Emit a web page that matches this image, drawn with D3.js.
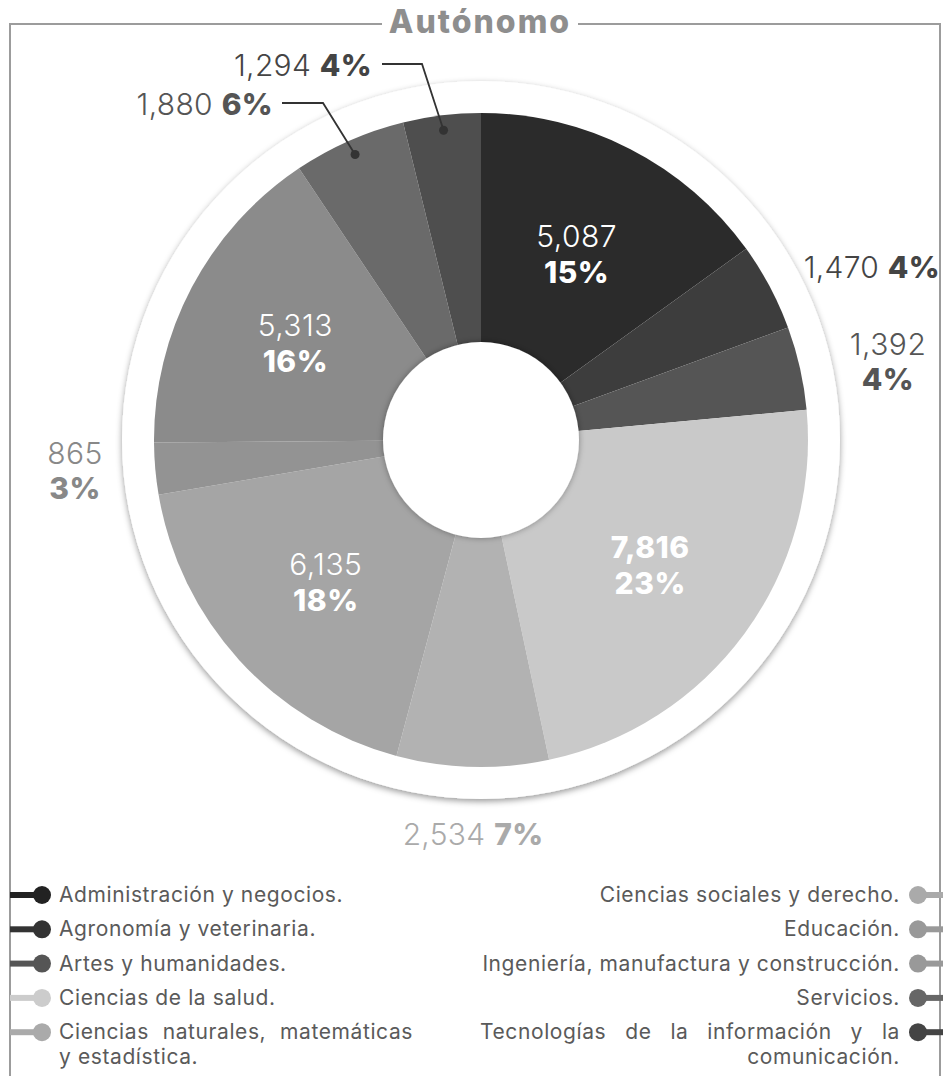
<!DOCTYPE html>
<html><head><meta charset="utf-8">
<script src="https://cdn.jsdelivr.net/npm/d3@7"></script>
<style>
body{margin:0;background:#fff;}
svg{display:block;}
text{font-family:Inter,"Open Sans","DejaVu Sans",sans-serif;}
</style>
</head><body>
<svg id="chart" width="943" height="1076"></svg>
<script>
// ---------- DATA ----------
const title = "Autónomo";
const categories = [
  "Administración y negocios.",
  "Agronomía y veterinaria.",
  "Artes y humanidades.",
  "Ciencias de la salud.",
  "Ciencias naturales, matemáticas y estadística.",
  "Ciencias sociales y derecho.",
  "Educación.",
  "Ingeniería, manufactura y construcción.",
  "Servicios.",
  "Tecnologías de la información y la comunicación."
];
const values   = [5087, 1470, 1392, 7816, 2534, 6135, 865, 5313, 1880, 1294];
const percents = [15, 4, 4, 23, 7, 18, 3, 16, 6, 4];
const valueLabels = ["5,087","1,470","1,392","7,816","2,534","6,135","865","5,313","1,880","1,294"];

// ---------- STYLE / LAYOUT ----------
const sliceColors  = ["#2b2b2b","#3d3d3d","#555555","#c9c9c9","#b2b2b2","#a5a5a5","#939393","#8b8b8b","#6a6a6a","#4e4e4e"];
const legendColors = ["#222222","#333333","#555555","#cccccc","#aaaaaa","#aaaaaa","#999999","#999999","#666666","#444444"];
const labelColors  = ["#fff","#444444","#555555","#fff","#aaaaaa","#fff","#888888","#fff","#555555","#444444"];

const W = 943, H = 1076;
const cx = 481, cy = 440, R = 327, holeR = 98, ringR = 359;

const svg = d3.select("#chart");
svg.append("rect").attr("width", W).attr("height", H).attr("fill", "#fff");

const defs = svg.append("defs");
const f1 = defs.append("filter").attr("id","ringShadow").attr("x","-10%").attr("y","-10%").attr("width","120%").attr("height","120%");
f1.append("feDropShadow").attr("dx",0).attr("dy",2.5).attr("stdDeviation",3).attr("flood-color","#000").attr("flood-opacity",0.4);
const f2 = defs.append("filter").attr("id","holeShadow").attr("x","-20%").attr("y","-20%").attr("width","140%").attr("height","140%");
f2.append("feDropShadow").attr("dx",0).attr("dy",0).attr("stdDeviation",3).attr("flood-color","#000").attr("flood-opacity",0.35);

// frame
svg.append("path")
  .attr("d", "M10,1076 V24 H382 M578,24 H940 V1076")
  .attr("fill","none").attr("stroke","#9c9c9c").attr("stroke-width",2);

svg.append("text").attr("x", 480).attr("y", 33)
  .attr("text-anchor","middle").attr("font-size", 32).attr("font-weight", 800)
  .attr("letter-spacing", 2)
  .attr("fill", "#8e8e8e").text(title);

const g = svg.append("g").attr("transform", `translate(${cx},${cy})`);

// ring
g.append("circle").attr("r", ringR).attr("fill","#fff").attr("filter","url(#ringShadow)");

const pie = d3.pie().sort(null).value(d => d);
const arcs = pie(values);
const arc = d3.arc().innerRadius(0).outerRadius(R);

g.selectAll("path.slice").data(arcs).join("path")
  .attr("class","slice")
  .attr("d", arc)
  .attr("fill", (d,i) => sliceColors[i]);

// hole
g.append("circle").attr("r", holeR).attr("fill","#fff").attr("filter","url(#holeShadow)");

// inside labels
const inside = [
  {i:0, boldValue:false},
  {i:3, boldValue:true},
  {i:5, boldValue:false},
  {i:7, boldValue:false}
];
const labelArc = d3.arc().innerRadius(210).outerRadius(210);
inside.forEach(o => {
  const [x, y] = labelArc.centroid(arcs[o.i]);
  const t = g.append("text").attr("text-anchor","middle").attr("fill", labelColors[o.i])
    .attr("font-size", 30).attr("letter-spacing", 0.5);
  t.append("tspan").attr("x", x).attr("y", y - 6)
    .attr("font-weight", o.boldValue ? 800 : 300).text(valueLabels[o.i]);
  t.append("tspan").attr("x", x).attr("y", y + 30)
    .attr("font-weight", 800).text(percents[o.i] + "%");
});

// outside labels (absolute page coordinates)
const fs = 30;
function inline(x, y, anchor, i) {
  const t = svg.append("text").attr("x", x).attr("y", y).attr("text-anchor", anchor)
    .attr("font-size", fs).attr("fill", labelColors[i]).attr("letter-spacing", 0.3);
  t.append("tspan").attr("font-weight", 300).text(valueLabels[i] + " ");
  t.append("tspan").attr("font-weight", 800).text(percents[i] + "%");
  return t;
}
function stacked(x, y, i) {
  const t = svg.append("text").attr("text-anchor","middle").attr("font-size", fs).attr("fill", labelColors[i]).attr("letter-spacing", 0.5);
  t.append("tspan").attr("x", x).attr("y", y).attr("font-weight", 300).text(valueLabels[i]);
  t.append("tspan").attr("x", x).attr("y", y + 35).attr("font-weight", 800).text(percents[i] + "%");
}
inline(940, 278, "end", 1);
stacked(888, 355, 2);
inline(473, 845, "middle", 4);
stacked(75, 464, 6);
inline(273, 115, "end", 8);
inline(372, 76, "end", 9);

// leader lines with dots
const dotArc = d3.arc().innerRadius(312).outerRadius(312);
const leaders = [
  {i:8, x0:282, elbowX:323, y:103},
  {i:9, x0:382, elbowX:422, y:64}
];
leaders.forEach(l => {
  const [dx, dy] = dotArc.centroid(arcs[l.i]);
  const px = cx + dx, py = cy + dy;
  svg.append("path")
    .attr("d", `M${l.x0},${l.y} H${l.elbowX} L${px},${py}`)
    .attr("fill","none").attr("stroke","#333").attr("stroke-width",1.8);
  svg.append("circle").attr("cx", px).attr("cy", py).attr("r", 4.5).attr("fill","#333");
});

// ---------- LEGEND ----------
const legFS = 21, legLS = 0.6, legColor = "#5a5a5a";
const rowY = i => 902 + i * 34.3;
function legText(x, y, anchor, s) {
  return svg.append("text").attr("x", x).attr("y", y).attr("text-anchor", anchor)
    .attr("font-size", legFS).attr("letter-spacing", legLS).attr("fill", legColor).text(s);
}
function justify(words, x0, x1, y) {
  const nodes = words.map(w => legText(0, y, "start", w));
  const widths = nodes.map(n => n.node().getComputedTextLength());
  const total = d3.sum(widths);
  const gap = (x1 - x0 - total) / (words.length - 1);
  let x = x0;
  nodes.forEach((n, k) => { n.attr("x", x); x += widths[k] + gap; });
}
const wrapLeft = {4: ["Ciencias naturales, matemáticas", "y estadística."]};
const wrapRight = {9: ["Tecnologías de la información y la", "comunicación."]};

categories.forEach((c, i) => {
  const left = i < 5;
  const row = left ? i : i - 5;
  const y = rowY(row);
  const my = y - 7;
  if (left) {
    svg.append("line").attr("x1", 10).attr("x2", 42).attr("y1", my).attr("y2", my)
      .attr("stroke", legendColors[i]).attr("stroke-width", 6);
    svg.append("circle").attr("cx", 42).attr("cy", my).attr("r", 9).attr("fill", legendColors[i]);
    if (wrapLeft[i]) {
      justify(wrapLeft[i][0].split(" "), 59, 413, y);
      legText(59, y + 24.5, "start", wrapLeft[i][1]);
    } else {
      legText(59, y, "start", c);
    }
  } else {
    svg.append("line").attr("x1", 918).attr("x2", 943).attr("y1", my).attr("y2", my)
      .attr("stroke", legendColors[i]).attr("stroke-width", 6);
    svg.append("circle").attr("cx", 918).attr("cy", my).attr("r", 9).attr("fill", legendColors[i]);
    if (wrapRight[i]) {
      justify(wrapRight[i][0].split(" "), 480, 900, y);
      legText(900, y + 24.5, "end", wrapRight[i][1]);
    } else {
      legText(900, y, "end", c);
    }
  }
});
</script>
</body></html>
